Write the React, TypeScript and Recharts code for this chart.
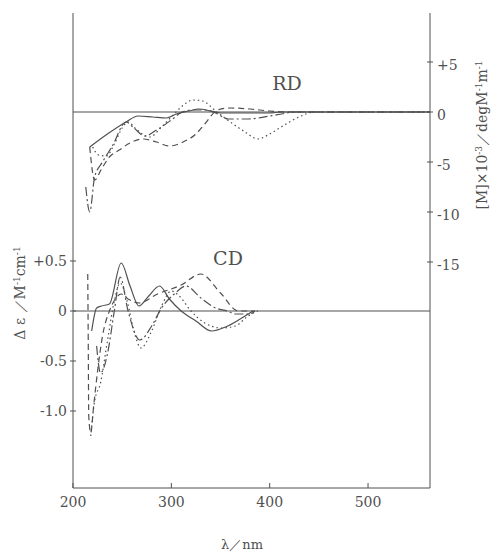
import { LineChart, Line, XAxis, YAxis, ReferenceLine } from 'recharts';

// ink of the scanned figure
const INK = '#505050';
const SERIF = '"DejaVu Serif", "Liberation Serif", serif';

// x axis
const NM_DOMAIN = [200, 563];
const NM_TICKS = [200, 300, 400, 500];

// left axis: Δε (CD)
const CD_DOMAIN = [-1.77, 2.98];
const CD_TICKS = [0.5, 0, -0.5, -1.0];

// right axis: [M]×10^-3 (RD)
const RD_DOMAIN = [-37.6, 9.9];
const RD_TICKS = [5, 0, -5, -10, -15];

// RD curves (nm, value)
const rdSolidNm = [217, 235, 254, 266, 281, 295, 305, 318, 328, 340, 350, 360, 380, 400, 412, 425, 563];
const rdSolidVal = [-3.5, -2.2, -1.0, -0.4, -0.5, -0.6, -0.2, 0.1, 0.3, 0.1, -0.1, -0.1, -0.1, -0.1, 0, 0, 0];

const rdDashNm = [217, 222, 229, 237, 247, 258, 271, 285, 298, 312, 325, 334, 347, 360, 380, 400, 420, 563];
const rdDashVal = [-3.5, -6.8, -5.7, -4.5, -3.8, -3.1, -2.7, -3.0, -3.4, -3.0, -2.2, -1.2, 0.2, 0.4, 0.3, 0.1, 0, 0];

const rdChainNm = [213, 217, 222, 230, 240, 254, 262, 273, 285, 300, 311, 322, 335, 345, 358, 378, 400, 412, 425, 563];
const rdChainVal = [-7.5, -10.0, -6.5, -5.0, -3.4, -1.0, -1.6, -2.4, -1.8, -0.8, 0, 0.2, 0.2, -0.1, -0.7, -0.7, -0.4, -0.2, 0, 0];

const rdDotNm = [220, 226, 234, 242, 250, 256, 264, 278, 290, 300, 310, 322, 332, 345, 360, 375, 388, 400, 415, 432, 445, 563];
const rdDotVal = [-3.5, -4.3, -4.4, -3.2, -1.6, -1.0, -1.7, -2.5, -1.5, -0.5, 0.5, 1.2, 1.1, 0.1, -1.0, -2.0, -2.7, -2.2, -1.3, -0.4, 0, 0];

// CD curves (nm, value)
const cdSolidNm = [219, 224, 229, 237, 249, 258, 267, 277, 288, 298, 310, 325, 341, 355, 370, 383];
const cdSolidVal = [-0.2, 0.03, 0.05, 0.07, 0.48, 0.25, 0.05, 0.15, 0.25, 0.12, 0, -0.1, -0.2, -0.16, -0.08, 0];

const cdDashNm = [215, 215.5, 216, 218, 221, 225, 230, 237, 243, 249, 256, 267, 286, 310, 330, 350, 368, 385];
const cdDashVal = [0.37, -0.3, -1.05, -1.22, -0.95, -0.6, -0.25, 0.0, 0.12, 0.17, 0.12, 0.08, 0.17, 0.26, 0.37, 0.18, 0, 0];

const cdChainNm = [224, 228, 235, 242, 248, 256, 268, 280, 290, 303, 315, 330, 345, 357, 365, 380, 385];
const cdChainVal = [-0.35, -0.62, -0.43, 0, 0.34, 0.0, -0.29, -0.15, 0.03, 0.17, 0.25, 0.13, 0.03, 0, -0.03, -0.03, 0];

const cdDotNm = [218, 222, 228, 235, 242, 248, 255, 262, 269, 280, 290, 300, 308, 320, 334, 351, 365, 378, 388];
const cdDotVal = [-1.25, -0.9, -0.72, -0.3, 0.1, 0.28, 0.1, -0.2, -0.37, -0.2, 0.05, 0.2, 0.15, 0, -0.12, -0.17, -0.15, -0.05, 0];

const toRows = (nm: number[], val: number[]) => nm.map((x, i) => ({ nm: x, v: val[i] }));

const SERIES = [
  { id: 'rd-solid', axis: 'rd', rows: toRows(rdSolidNm, rdSolidVal), dash: undefined },
  { id: 'rd-dash', axis: 'rd', rows: toRows(rdDashNm, rdDashVal), dash: '6 4' },
  { id: 'rd-chain', axis: 'rd', rows: toRows(rdChainNm, rdChainVal), dash: '9 3 2 3' },
  { id: 'rd-dot', axis: 'rd', rows: toRows(rdDotNm, rdDotVal), dash: '1.5 3' },
  { id: 'cd-solid', axis: 'cd', rows: toRows(cdSolidNm, cdSolidVal), dash: undefined },
  { id: 'cd-dash', axis: 'cd', rows: toRows(cdDashNm, cdDashVal), dash: '6 4' },
  { id: 'cd-chain', axis: 'cd', rows: toRows(cdChainNm, cdChainVal), dash: '9 3 2 3' },
  { id: 'cd-dot', axis: 'cd', rows: toRows(cdDotNm, cdDotVal), dash: '1.5 3' },
];

const tickFont = { fontFamily: SERIF, fontSize: 14, fill: INK };

// bottom ticks point inward
const BottomTick = ({ x, y, payload }: any) => (
  <g>
    <line x1={x} x2={x} y1={y} y2={y - 5} stroke={INK} />
    <text x={x} y={y + 19} textAnchor="middle" {...tickFont}>{payload.value}</text>
  </g>
);

const cdLabel = (v: number) => (v > 0 ? `+${v.toFixed(1)}` : v === 0 ? '0' : v.toFixed(1));

const LeftTick = ({ x, y, payload }: any) => (
  <g>
    <line x1={x - 3} x2={x + 3} y1={y} y2={y} stroke={INK} />
    <text x={x - 6} y={y + 5} textAnchor="end" {...tickFont}>{cdLabel(payload.value)}</text>
  </g>
);

const rdLabel = (v: number) => (v > 0 ? `+${v}` : `${v}`);

const RightTick = ({ x, y, payload }: any) => (
  <g>
    <line x1={x - 3} x2={x + 3} y1={y} y2={y} stroke={INK} />
    <text x={x + 7} y={y + 8} textAnchor="start" {...tickFont}>{rdLabel(payload.value)}</text>
  </g>
);

const overlay = (left: number, top: number, rotate = false): React.CSSProperties => ({
  position: 'absolute',
  left,
  top,
  transform: `translate(-50%, -50%)${rotate ? ' rotate(-90deg)' : ''}`,
  whiteSpace: 'nowrap',
  fontFamily: SERIF,
  color: INK,
  fontSize: 14,
  lineHeight: 1,
});

const sup = { fontSize: 9, verticalAlign: 'super' } as React.CSSProperties;

export default function App() {
  return (
    <div style={{ position: 'absolute', left: 0, top: 0, width: 491, height: 554, background: '#fff', overflow: 'hidden' }}>
      <LineChart width={491} height={554} margin={{ top: 13, right: 0, bottom: 0, left: 0 }}>
        <XAxis
          dataKey="nm"
          type="number"
          domain={NM_DOMAIN}
          ticks={NM_TICKS}
          allowDataOverflow
          height={66}
          tickSize={0}
          tickMargin={0}
          tickLine={false}
          axisLine={{ stroke: INK }}
          tick={<BottomTick />}
        />
        <XAxis
          xAxisId="top"
          orientation="top"
          dataKey="nm"
          type="number"
          domain={NM_DOMAIN}
          allowDataOverflow
          height={0}
          tick={false}
          tickLine={false}
          axisLine={{ stroke: INK }}
        />
        <YAxis
          yAxisId="cd"
          type="number"
          domain={CD_DOMAIN}
          ticks={CD_TICKS}
          allowDataOverflow
          width={73}
          tickSize={0}
          tickMargin={0}
          tickLine={false}
          axisLine={{ stroke: INK }}
          tick={<LeftTick />}
        />
        <YAxis
          yAxisId="rd"
          orientation="right"
          type="number"
          domain={RD_DOMAIN}
          ticks={RD_TICKS}
          allowDataOverflow
          width={61}
          tickSize={0}
          tickMargin={0}
          tickLine={false}
          axisLine={{ stroke: INK }}
          tick={<RightTick />}
        />
        <ReferenceLine yAxisId="rd" y={0} stroke={INK} strokeWidth={1.2} />
        <ReferenceLine yAxisId="cd" y={0} stroke={INK} strokeWidth={1.2} />
        {SERIES.map((s) => (
          <Line
            key={s.id}
            data={s.rows}
            dataKey="v"
            yAxisId={s.axis}
            type="monotone"
            stroke={INK}
            strokeWidth={1.2}
            strokeDasharray={s.dash}
            dot={false}
            activeDot={false}
            isAnimationActive={false}
          />
        ))}
      </LineChart>

      <div style={{ ...overlay(287, 83), fontSize: 19 }}>RD</div>
      <div style={{ ...overlay(228, 258), fontSize: 19 }}>CD</div>
      <div style={{ ...overlay(242, 544), fontSize: 13 }}>λ／nm</div>
      <div style={overlay(20, 293, true)}>
        Δ ε ／M<span style={sup}>-1</span>cm<span style={sup}>-1</span>
      </div>
      <div style={overlay(482, 135, true)}>
        [M]×10<span style={sup}>-3</span>／degM<span style={sup}>-1</span>m<span style={sup}>-1</span>
      </div>
    </div>
  );
}
